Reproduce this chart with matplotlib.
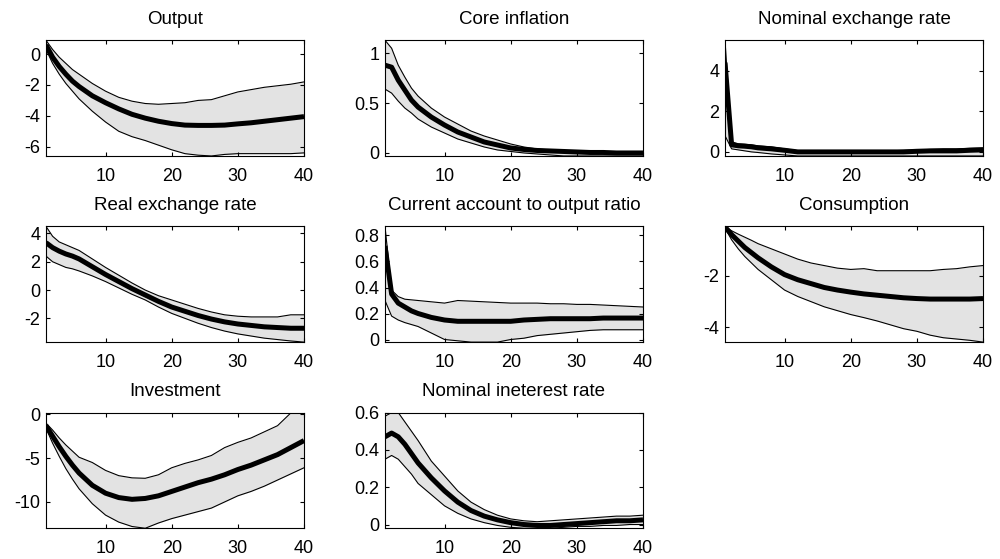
import numpy as np
from matplotlib import pyplot as plt
from matplotlib.ticker import FormatStrFormatter

# horizon (quarters) at which the responses were read
periods = [1, 2, 3, 4, 5, 6, 8, 10, 12, 14, 16, 18, 20, 22, 24, 26, 28, 30, 32, 34, 36, 38, 40]

titles = ['Output', 'Core inflation', 'Nominal exchange rate',
          'Real exchange rate', 'Current account to output ratio', 'Consumption',
          'Investment', 'Nominal ineterest rate']

output_med = [0.6, -0.2, -0.8, -1.3, -1.75, -2.1, -2.7, -3.15, -3.55, -3.9, -4.15, -4.35,
              -4.5, -4.6, -4.62, -4.62, -4.6, -4.52, -4.45, -4.35, -4.25, -4.15, -4.05]
output_up = [0.9, 0.3, -0.2, -0.6, -1.0, -1.3, -1.9, -2.4, -2.8, -3.05, -3.2, -3.25,
             -3.2, -3.15, -3.0, -2.95, -2.7, -2.45, -2.3, -2.15, -2.05, -1.95, -1.8]
output_lo = [0.3, -0.6, -1.3, -1.9, -2.4, -2.9, -3.7, -4.4, -5.0, -5.35, -5.6, -5.9,
             -6.2, -6.45, -6.55, -6.6, -6.5, -6.45, -6.45, -6.45, -6.45, -6.45, -6.4]

core_med = [0.88, 0.86, 0.73, 0.63, 0.53, 0.46, 0.36, 0.28, 0.21, 0.16, 0.11, 0.08,
            0.05, 0.035, 0.025, 0.02, 0.015, 0.01, 0.005, 0.005, 0.0, 0.0, 0.0]
core_up = [1.13, 1.05, 0.88, 0.76, 0.65, 0.57, 0.45, 0.36, 0.29, 0.22, 0.17, 0.13,
           0.09, 0.06, 0.04, 0.03, 0.02, 0.015, 0.01, 0.01, 0.005, 0.005, 0.005]
core_lo = [0.64, 0.6, 0.52, 0.45, 0.4, 0.34, 0.26, 0.2, 0.14, 0.1, 0.06, 0.03,
           0.015, 0.0, -0.01, -0.02, -0.03, -0.03, -0.03, -0.03, -0.03, -0.03, -0.03]

nomex_med = [4.4, 0.35, 0.3, 0.28, 0.25, 0.2, 0.15, 0.08, 0.0, 0.0, 0.0, 0.0,
             0.0, 0.0, 0.0, 0.0, 0.0, 0.03, 0.05, 0.05, 0.05, 0.08, 0.1]
nomex_up = [5.5, 0.5, 0.4, 0.38, 0.35, 0.3, 0.25, 0.15, 0.06, 0.05, 0.05, 0.05,
            0.05, 0.05, 0.05, 0.05, 0.08, 0.1, 0.12, 0.15, 0.15, 0.18, 0.2]
nomex_lo = [0.8, 0.15, 0.1, 0.05, 0.0, -0.03, -0.1, -0.15, -0.2, -0.2, -0.2, -0.2,
            -0.2, -0.2, -0.2, -0.2, -0.2, -0.2, -0.2, -0.2, -0.2, -0.2, -0.2]

realex_med = [3.35, 3.0, 2.75, 2.55, 2.4, 2.2, 1.65, 1.1, 0.6, 0.1, -0.35, -0.8,
              -1.2, -1.5, -1.8, -2.05, -2.25, -2.4, -2.5, -2.6, -2.65, -2.7, -2.7]
realex_up = [4.5, 3.8, 3.4, 3.2, 3.0, 2.8, 2.2, 1.6, 1.05, 0.5, 0.0, -0.4,
             -0.7, -1.0, -1.3, -1.55, -1.75, -1.85, -1.9, -1.9, -1.9, -1.75, -1.75]
realex_lo = [2.4, 2.0, 1.8, 1.6, 1.5, 1.35, 1.0, 0.6, 0.15, -0.3, -0.7, -1.2,
             -1.65, -2.0, -2.35, -2.65, -2.9, -3.1, -3.25, -3.4, -3.5, -3.6, -3.68]

ca_med = [0.72, 0.35, 0.28, 0.25, 0.22, 0.2, 0.17, 0.15, 0.14, 0.14, 0.14, 0.14,
          0.14, 0.15, 0.155, 0.16, 0.16, 0.16, 0.16, 0.165, 0.165, 0.165, 0.165]
ca_up = [0.87, 0.38, 0.33, 0.31, 0.305, 0.3, 0.29, 0.28, 0.3, 0.295, 0.29, 0.285,
         0.28, 0.28, 0.28, 0.275, 0.275, 0.27, 0.27, 0.265, 0.26, 0.255, 0.25]
ca_lo = [0.3, 0.18, 0.15, 0.13, 0.115, 0.1, 0.05, 0.0, -0.01, -0.02, -0.02, -0.02,
         0.0, 0.01, 0.03, 0.04, 0.05, 0.06, 0.07, 0.075, 0.075, 0.075, 0.075]

cons_med = [-0.1, -0.4, -0.65, -0.9, -1.1, -1.3, -1.65, -1.95, -2.15, -2.3, -2.45, -2.55,
            -2.63, -2.7, -2.75, -2.8, -2.85, -2.88, -2.9, -2.9, -2.9, -2.9, -2.88]
cons_up = [-0.08, -0.25, -0.38, -0.5, -0.62, -0.75, -0.95, -1.15, -1.35, -1.5, -1.6, -1.7,
           -1.75, -1.72, -1.8, -1.8, -1.8, -1.8, -1.8, -1.75, -1.72, -1.65, -1.6]
cons_lo = [-0.15, -0.6, -0.95, -1.25, -1.5, -1.75, -2.15, -2.55, -2.8, -3.0, -3.2, -3.35,
           -3.5, -3.62, -3.75, -3.9, -4.05, -4.15, -4.3, -4.4, -4.45, -4.5, -4.57]

inv_med = [-1.3, -2.5, -3.7, -4.8, -5.8, -6.7, -8.1, -9.0, -9.5, -9.7, -9.6, -9.3,
           -8.8, -8.3, -7.8, -7.4, -6.9, -6.3, -5.8, -5.2, -4.6, -3.8, -3.0]
inv_up = [-1.0, -1.8, -2.7, -3.5, -4.2, -4.9, -5.5, -6.4, -7.0, -7.25, -7.3, -6.9,
          -6.1, -5.6, -5.2, -4.7, -3.8, -3.2, -2.7, -2.0, -1.3, 0.15, 0.2]
inv_lo = [-1.6, -3.3, -4.8, -6.2, -7.4, -8.5, -10.2, -11.5, -12.3, -12.8, -13.0, -12.4,
          -11.9, -11.5, -11.1, -10.7, -10.0, -9.3, -8.8, -8.2, -7.5, -6.8, -6.1]

rate_med = [0.47, 0.49, 0.47, 0.43, 0.38, 0.33, 0.25, 0.18, 0.12, 0.075, 0.045, 0.025,
            0.01, 0.0, -0.005, -0.005, 0.0, 0.005, 0.01, 0.015, 0.02, 0.02, 0.025]
rate_up = [0.58, 0.6, 0.6, 0.55, 0.5, 0.45, 0.34, 0.26, 0.18, 0.12, 0.08, 0.05,
           0.03, 0.02, 0.015, 0.02, 0.025, 0.03, 0.035, 0.04, 0.045, 0.045, 0.05]
rate_lo = [0.35, 0.37, 0.35, 0.31, 0.27, 0.22, 0.16, 0.1, 0.06, 0.03, 0.01, -0.005,
           -0.015, -0.02, -0.02, -0.02, -0.015, -0.01, -0.01, -0.005, -0.005, 0.0, 0.0]

yticks = [[0, -2, -4, -6], [0, 0.5, 1], [0, 2, 4],
          [-2, 0, 2, 4], [0, 0.2, 0.4, 0.6, 0.8], [-2, -4],
          [0, -5, -10], [0, 0.2, 0.4, 0.6]]


def main():
    plt.rcParams['font.family'] = ['Liberation Sans', 'DejaVu Sans']
    plt.rcParams['font.size'] = 13

    series = [(output_lo, output_med, output_up), (core_lo, core_med, core_up),
              (nomex_lo, nomex_med, nomex_up), (realex_lo, realex_med, realex_up),
              (ca_lo, ca_med, ca_up), (cons_lo, cons_med, cons_up),
              (inv_lo, inv_med, inv_up), (rate_lo, rate_med, rate_up)]

    fig = plt.figure(figsize=(10, 5.59), dpi=100)
    lefts = [0.046, 0.385, 0.725]
    bottoms = [0.721, 0.388, 0.055]
    w, h = 0.258, 0.207

    for i, (lo, med, up) in enumerate(series):
        ax = fig.add_axes([lefts[i % 3], bottoms[i // 3], w, h])
        ax.fill_between(periods, lo, up, color='#e3e3e3', lw=0)
        ax.plot(periods, lo, color='black', lw=0.8)
        ax.plot(periods, up, color='black', lw=0.8)
        ax.plot(periods, med, color='black', lw=3.6, solid_capstyle='butt')
        ax.set_xlim(1, 40)
        ax.set_ylim(min(lo), max(up))
        ax.set_xticks([10, 20, 30, 40])
        ax.set_yticks(yticks[i])
        ax.yaxis.set_major_formatter(FormatStrFormatter('%g'))
        ax.tick_params(direction='in', length=3, top=True, right=True, labelsize=13)
        ax.tick_params(axis='x', pad=8.5)
        ax.tick_params(axis='y', pad=4)
        ax.set_title(titles[i], fontsize=13.5, pad=12)

    fig.savefig('out.png', dpi=100)


if __name__ == '__main__':
    main()
